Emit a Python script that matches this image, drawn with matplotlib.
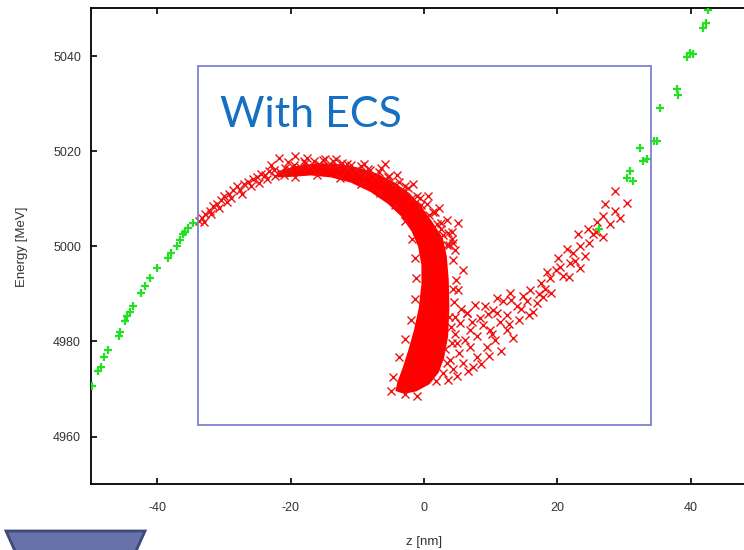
import matplotlib
matplotlib.use("Agg")
import matplotlib.pyplot as plt
from matplotlib.patches import Rectangle, Polygon

plt.rcParams['axes.unicode_minus'] = False
plt.rcParams['font.family'] = ['Liberation Sans', 'DejaVu Sans']

# green (+) points outside the ECS section
green_left_z = [-49.8, -48.9, -48.4, -48.0, -47.4, -45.8, -45.6, -44.6, -44.1, -43.6,
                -42.4, -41.9, -41.1, -40.1, -37.9, -37.1, -36.6, -36.1, -35.4, -34.6,
                -44.9, -38.4, -35.9]
green_left_e = [4970.6, 4973.7, 4974.7, 4976.8, 4978.3, 4981.1, 4982.1, 4985.3, 4986.3, 4987.4,
                4990.2, 4991.6, 4993.3, 4995.5, 4998.6, 5000.0, 5001.4, 5002.5, 5003.9, 5004.9,
                4984.4, 4997.6, 5003.0]
green_right_z = [42.6, 42.3, 41.9, 39.9, 40.4, 39.4, 37.9, 38.1, 35.4, 34.9,
                 34.5, 32.4, 33.4, 32.8, 30.9, 30.4, 31.4, 26.3]
green_right_e = [5049.7, 5047.0, 5046.0, 5040.7, 5040.4, 5039.7, 5033.0, 5031.9, 5029.0, 5022.2,
                 5022.2, 5020.7, 5018.4, 5017.9, 5015.8, 5014.4, 5013.7, 5003.7]

# dense red core (outline of the solid region)
core_z = [-22, -19, -16, -13, -10, -7, -4.5, -2.2, -0.4, 1.2, 2.8, 3.4, 3.7, 3.8, 3.6, 3.0,
          2.2, 0.8, -1.2, -3.0,
          -4.3, -4.0, -3.2, -2.3, -1.5, -0.8, -0.4, -0.4, -0.9, -1.9, -3.5, -5.5, -8, -11,
          -14, -17, -20, -22]
core_e = [5015.8, 5016.9, 5017.5, 5017.3, 5016.6, 5015.3, 5013.5, 5011.2, 5008.4, 5005.2, 5001.8,
          4998.0, 4993.0, 4987.0, 4981.0, 4976.5, 4973.5, 4971.0, 4969.5, 4969.0,
          4969.6, 4971.5, 4974.5, 4978.5, 4982.5, 4987.0, 4992.0, 4996.0, 5000.0, 5003.2,
          5006.4, 5009.0, 5011.4, 5013.4, 5014.5, 5014.9, 5014.6, 5014.5]

# red (x) points: arc and fuzz around the core
arc_z = [-33.8, -33.3, -32.8, -32.1, -31.6, -31.0, -30.4, -30.0, -29.3, -28.6, -28.1, -27.6,
         -27.0, -26.4, -25.7, -25.0, -24.4, -23.8, -23.2, -22.5, -21.8, -21.6, -20.9, -20.2,
         -19.5, -19.3, -18.6, -17.9, -17.2, -16.5, -15.8, -15.1, -14.4, -13.7, -13.0, -12.3,
         -11.6, -10.9, -10.2, -9.5, -8.8, -8.1, -7.4, -6.7, -5.8, -6.0, -5.2, -4.6, -3.8,
         -3.2, -2.4, -1.8, -1.0, -0.4, 0.4, 0.8, 1.6, 1.9, 2.6, 2.9, 3.6, 3.8, 4.4, 4.6,
         -33.0, -31.9, -30.8, -29.6, -28.9, -27.3, -26.0, -24.8, -23.5, -22.3, -21.0, -20.4,
         -23.0, -17.5, -13.2, -9.0, -6.5, -4.0, -1.6, 0.6, 2.3, 3.4, 4.2]
arc_e = [5005.3, 5006.0, 5006.9, 5007.5, 5008.4, 5009.0, 5009.8, 5010.6, 5011.0, 5011.8, 5012.6,
         5011.9, 5013.2, 5013.6, 5014.2, 5014.5, 5015.3, 5015.0, 5015.8, 5016.1, 5018.6, 5015.6,
         5016.5, 5016.2, 5017.1, 5018.9, 5016.6, 5017.5, 5016.9, 5017.9, 5017.4, 5018.1, 5017.2,
         5017.9, 5016.8, 5017.6, 5016.4, 5017.2, 5016.0, 5016.8, 5015.3, 5016.1, 5014.6, 5015.6,
         5017.4, 5014.0, 5014.8, 5012.8, 5013.6, 5011.6, 5012.2, 5010.2, 5010.6, 5008.6, 5009.0,
         5006.6, 5007.2, 5004.6, 5005.0, 5002.4, 5002.8, 5000.2, 5000.6, 4999.3,
         5005.2, 5006.7, 5008.0, 5009.4, 5010.2, 5011.0, 5012.6, 5013.4, 5014.2, 5014.8, 5015.0,
         5017.8, 5017.2, 5018.5, 5018.4, 5017.4, 5016.4, 5015.0, 5013.0, 5010.6, 5008.0, 5005.6,
         5003.0]

edge_z = [-4.6, -3.8, -2.9, -2.0, -1.4, -1.2, -1.3, -1.8, -2.8, -4.4, -6.6, -9.4, -12.6, -16.0,
          -19.4, -4.9, -2.8, 4.4, 4.6, 4.2, 3.4, 1.8, 3.4, 2.6, 1.4, -0.6, -2.8, -5.4, -8.4,
          -11.6, -14.8, -18.0, -1.0, 5.9, 5.1, 6.4, 5.1, 4.4, 4.8, 4.5, 4.2, 3.8]
edge_e = [4972.6, 4976.8, 4980.6, 4984.6, 4989.0, 4993.4, 4997.6, 5001.6, 5005.4, 5008.6, 5011.2,
          5013.2, 5014.4, 5014.9, 5014.6, 4969.6, 4968.9, 4991.0, 4985.2, 4979.6, 4975.4, 4971.6,
          5000.2, 5003.6, 5007.2, 5010.2, 5012.6, 5014.6, 5016.3, 5017.4, 5018.3, 5018.0, 4968.6,
          4995.1, 4990.9, 4986.0, 5004.9, 4997.2, 4993.0, 4988.4, 5001.5, 4985.2]

tail_z = [28.6, 30.4, 27.1, 28.6, 26.9, 27.9, 29.4, 26.0, 25.4, 23.1, 24.6, 23.4, 24.1, 20.1,
          21.9, 23.4, 22.4, 20.9, 18.9, 17.6, 19.1, 15.9, 14.9, 12.9, 10.9, 13.9, 16.9, 18.1,
          15.4, 12.4, 10.4, 8.4, 6.4, 12.4, 13.4, 9.9, 6.9, 4.9, 6.9, 9.4, 3.9, 5.9, 2.9, 11.4,
          8.0, 7.6, 9.2, 5.4, 4.6, 7.9, 10.7, 5.2, 4.4, 3.6, 6.6, 8.6, 11.6, 14.2, 16.4, 11.9,
          19.8, 21.4, 17.2,
          3.2, 4.0, 5.6, 6.2, 7.2, 8.8, 9.6, 10.2, 11.0, 7.4, 5.0, 9.8, 12.8, 13.0, 14.6, 15.8,
          17.8, 18.4, 20.4, 21.8, 22.6, 24.8, 25.8, 26.8]
tail_e = [5011.7, 5009.1, 5008.8, 5007.5, 5006.4, 5004.8, 5006.0, 5005.2, 5002.6, 5002.5, 5003.6,
          5000.0, 4997.9, 4997.6, 4996.5, 4995.5, 4998.6, 4993.7, 4993.3, 4992.3, 4990.2, 4990.9,
          4989.5, 4990.2, 4989.1, 4987.4, 4988.1, 4991.0, 4988.6, 4985.6, 4986.7, 4984.9, 4986.0,
          4982.5, 4980.7, 4982.5, 4982.5, 4979.7, 4978.9, 4978.9, 4976.1, 4975.4, 4973.3, 4984.0,
          4981.2, 4987.6, 4987.4, 4983.8, 4981.6, 4976.8, 4980.3, 4977.6, 4974.2, 4972.0, 4973.8,
          4975.2, 4978.0, 4984.6, 4986.2, 4988.6, 4995.0, 4999.4, 4990.0,
          4978.4, 4983.0, 4986.8, 4980.4, 4984.2, 4983.4, 4985.8, 4981.6, 4986.0, 4974.6, 4972.8,
          4977.0, 4983.6, 4988.8, 4986.8, 4985.6, 4989.4, 4994.6, 4995.6, 4993.6, 4997.0, 5000.8,
          5003.0, 5002.0]

ecs_z = (-33.9, 34.1)
ecs_e = (4962.5, 5037.9)

fig = plt.figure(figsize=(7.44, 5.5), dpi=100)
ax = fig.add_axes([0.1219, 0.1196, 0.8962, 0.865])

ax.fill(core_z, core_e, color='#ff0000', lw=0, zorder=2)
for zz, ee in [(arc_z, arc_e), (edge_z, edge_e), (tail_z, tail_e)]:
    ax.plot(zz, ee, ls='none', marker='x', ms=5.5, mew=1.0, color='#f01010', zorder=3)
ax.plot(green_left_z, green_left_e, ls='none', marker='+', ms=6, mew=1.6, color='#22e022', zorder=3)
ax.plot(green_right_z, green_right_e, ls='none', marker='+', ms=6, mew=1.6, color='#22e022', zorder=3)

ax.add_patch(Rectangle((ecs_z[0], ecs_e[0]), ecs_z[1] - ecs_z[0], ecs_e[1] - ecs_e[0],
                       fill=False, ec='#7f80d4', lw=1.3, zorder=4))

ax.set_xlim(-50, 50)
ax.set_ylim(4950, 5050)
ax.set_xticks([-40, -20, 0, 20, 40])
ax.set_yticks([4960, 4980, 5000, 5020, 5040])
ax.tick_params(direction='in', top=True, right=True, length=4, width=1.2,
               labelsize=9, labelcolor='#333333')
ax.tick_params(axis='x', pad=13)
ax.tick_params(axis='y', pad=7)
for s in ax.spines.values():
    s.set_linewidth(1.3)
ax.set_xlabel('z [nm]', fontsize=9.5, color='#333333', labelpad=16)
ax.set_ylabel('Energy [MeV]', fontsize=9.5, color='#333333', labelpad=18)

fig.text(220 / 744, 1 - 127 / 550, 'With ECS', fontsize=31, color='#1570c4',
         family=['Lato', 'DejaVu Sans'], ha='left', va='baseline')

# slide shape at the bottom left
fig.patches.append(Polygon([(6 / 744, 19 / 550), (145 / 744, 19 / 550), (134 / 744, -0.01),
                            (17 / 744, -0.01)], closed=True, transform=fig.transFigure,
                           fc='#6672a8', ec='#3d4a7c', lw=2, figure=fig))

fig.savefig('out.png', dpi=100)
